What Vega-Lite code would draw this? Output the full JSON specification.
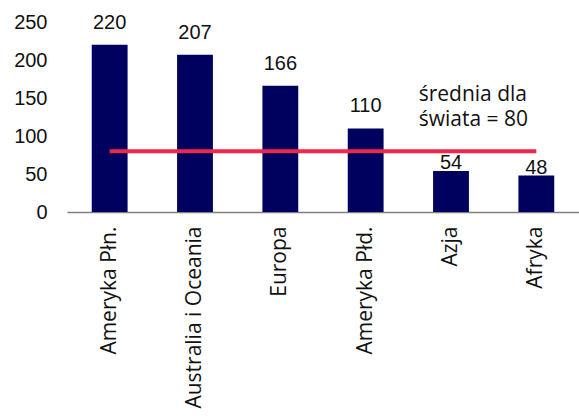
{
  "$schema": "https://vega.github.io/schema/vega-lite/v6.json",
  "autosize": "none",
  "padding": {"left": 67, "top": 22, "right": 0, "bottom": 204},
  "width": 512,
  "height": 190,
  "background": "white",
  "config": {
    "view": {"stroke": null},
    "axisY": {
      "title": null,
      "grid": false,
      "domain": false,
      "ticks": false,
      "labelOverlap": false,
      "labelFont": "Liberation Sans",
      "labelFontSize": 20,
      "labelColor": "#111111",
      "labelPadding": 20
    }
  },
  "data": {
    "values": [
      {"region": "Ameryka Płn.", "value": 220, "world_avg": 80},
      {"region": "Australia i Oceania", "value": 207, "world_avg": 80},
      {"region": "Europa", "value": 166, "world_avg": 80},
      {"region": "Ameryka Płd.", "value": 110, "world_avg": 80},
      {"region": "Azja", "value": 54, "world_avg": 80},
      {"region": "Afryka", "value": 48, "world_avg": 80}
    ]
  },
  "encoding": {
    "x": {
      "field": "region",
      "type": "nominal",
      "sort": null,
      "scale": {"paddingInner": 0.58, "paddingOuter": 0.29},
      "axis": {
        "title": null,
        "labelAngle": -90,
        "labelAlign": "right",
        "labelBaseline": "middle",
        "labelFont": "Open Sans",
        "labelFontSize": 21,
        "labelColor": "#111111",
        "labelPadding": 14,
        "ticks": false,
        "domainColor": "#7f7f7f",
        "domainWidth": 1.5,
        "labelLimit": 400,
        "labelOverlap": false
      }
    },
    "y": {
      "field": "value",
      "type": "quantitative",
      "scale": {"domain": [0, 250]},
      "axis": {"title": null, "values": [0, 50, 100, 150, 200, 250], "labelOverlap": false}
    }
  },
  "layer": [
    {
      "mark": {"type": "bar", "color": "#00005e"}
    },
    {
      "mark": {"type": "line", "color": "#f0264a", "strokeWidth": 4},
      "encoding": {
        "y": {"field": "world_avg", "type": "quantitative", "axis": {"title": null, "values": [0, 50, 100, 150, 200, 250], "labelOverlap": false}}
      }
    },
    {
      "transform": [{"filter": "datum.value > 100"}],
      "mark": {"type": "text", "baseline": "alphabetic", "dy": -16, "font": "Liberation Sans", "fontSize": 20, "color": "#111111"},
      "encoding": {
        "text": {"field": "value"}
      }
    },
    {
      "transform": [{"filter": "datum.value <= 100"}],
      "mark": {"type": "text", "baseline": "alphabetic", "dy": -2, "font": "Liberation Sans", "fontSize": 20, "color": "#111111"},
      "encoding": {
        "text": {"field": "value"}
      }
    },
    {
      "data": {"values": [{"region": "Ameryka Płd.", "world_avg": 80, "note": ["średnia dla", "świata = 80"]}]},
      "mark": {"type": "text", "align": "left", "baseline": "alphabetic", "dx": 53, "dy": -50, "lineHeight": 25, "font": "Open Sans", "fontSize": 21, "color": "#111111"},
      "encoding": {
        "y": {"field": "world_avg", "type": "quantitative", "axis": {"title": null, "values": [0, 50, 100, 150, 200, 250], "labelOverlap": false}},
        "text": {"field": "note"}
      }
    }
  ]
}
